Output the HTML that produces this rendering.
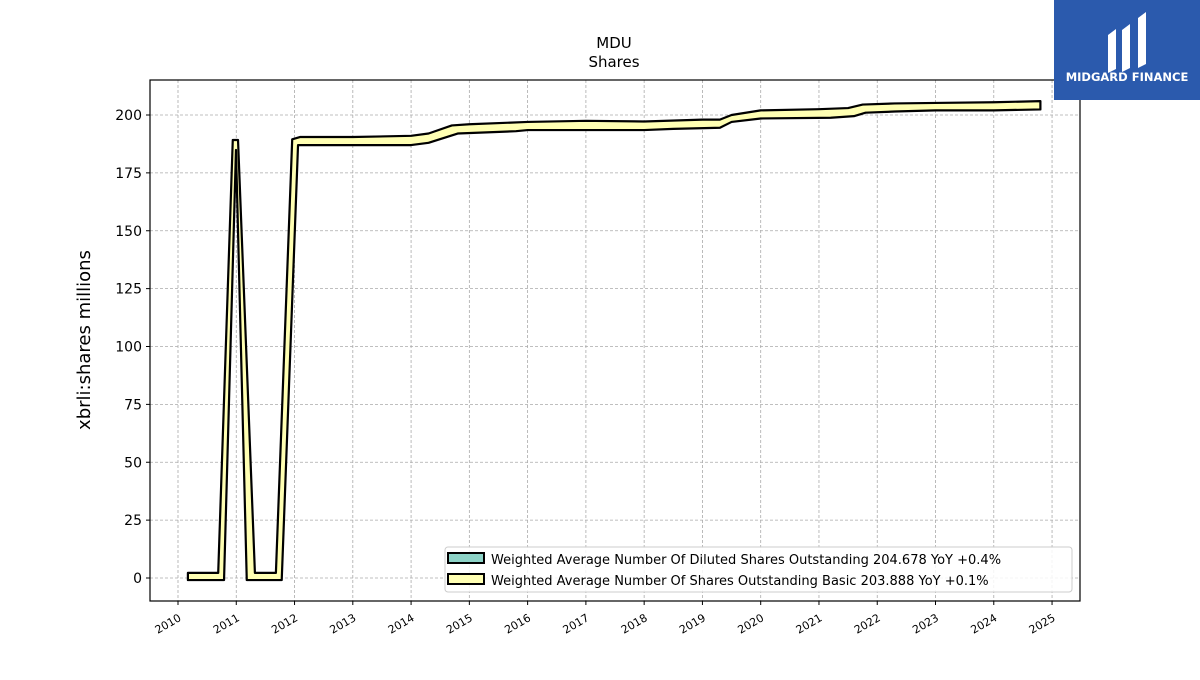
<!DOCTYPE html>
<html><head><meta charset="utf-8"><style>
body{margin:0;background:#fff;font-family:"Liberation Sans","DejaVu Sans",sans-serif}
svg text{font-family:"DejaVu Sans","Liberation Sans",sans-serif}
</style></head><body>
<svg id="c" width="1200" height="675">
<rect width="1200" height="675" fill="#fff"/>
<text x="614" y="48" text-anchor="middle" font-size="15">MDU</text>
<text x="614" y="67" text-anchor="middle" font-size="15">Shares</text>
<g id="grid"></g>
<g id="series"></g>
<rect x="150" y="80" width="930" height="521" fill="none" stroke="#000" stroke-width="1.2"/>
<g id="axes"></g>
<text transform="translate(90,340) rotate(-90)" text-anchor="middle" font-size="18">xbrli:shares millions</text>
<g>
<rect x="445" y="547" width="627" height="45" rx="3" fill="#fff" fill-opacity="0.85" stroke="#ccc"/>
<rect x="448" y="553" width="36" height="10" fill="#8dd3c7" stroke="#000" stroke-width="2"/>
<text x="491" y="564" font-size="13">Weighted Average Number Of Diluted Shares Outstanding  204.678 YoY +0.4%</text>
<rect x="448" y="574" width="36" height="10" fill="#ffffb3" stroke="#000" stroke-width="2"/>
<text x="491" y="585" font-size="13">Weighted Average Number Of Shares Outstanding Basic  203.888 YoY +0.1%</text>
</g>
<g>
<rect x="1054" y="0" width="146" height="100" fill="#2b5aad"/>
<path d="M1108 35 l8 -6 v40 l-8 4z M1122 30 l8 -6 v44 l-8 4z M1138 18 l8 -6 v52 l-8 4z" fill="#fff"/>
<text x="1127" y="81" text-anchor="middle" font-size="11.5" font-weight="bold" fill="#fff">MIDGARD FINANCE</text>
</g>
</svg>
<script>
const xTicks=[2010,2011,2012,2013,2014,2015,2016,2017,2018,2019,2020,2021,2022,2023,2024,2025];
const yTicks=[0,25,50,75,100,125,150,175,200];
const dilutedYears=[2010.17,2010.69,2010.94,2011.03,2011.32,2011.68,2011.96,2012.1,2013,2014,2014.3,2014.7,2015,2016,2017,2018,2019,2019.3,2019.5,2020,2021,2021.5,2021.75,2022.3,2023,2024,2024.8];
const dilutedValues=[2.2,2.2,189.2,189.2,2.2,2.2,189.5,190.5,190.5,191,192,195.5,196,197,197.5,197.2,198,198,200,202,202.5,203,204.5,205,205.2,205.5,206];
const basicYears=[2010.17,2010.79,2010.995,2011.18,2011.78,2012.06,2013,2014,2014.3,2014.8,2015.8,2016,2018,2018.5,2019.3,2019.5,2020,2021.2,2021.6,2021.8,2022.3,2023,2024,2024.8];
const basicValues=[-0.9,-0.9,184.9,-0.9,-0.9,187,187,187,188,192,193,193.5,193.5,194,194.5,197,198.5,198.8,199.5,201,201.5,202,202,202.4];
const X=y=>178+(y-2010)*58.27, Y=v=>578-v*2.315;
const NS="http://www.w3.org/2000/svg";
const grid=document.getElementById('grid'),axes=document.getElementById('axes'),ser=document.getElementById('series');
function mk(tag,attrs,parent){const e=document.createElementNS(NS,tag);for(const k in attrs)e.setAttribute(k,attrs[k]);parent.appendChild(e);return e;}
xTicks.forEach(t=>{const x=X(t);
 const g=mk('line',{x1:x,x2:x,y1:80,y2:601,stroke:'#aaa','stroke-dasharray':'3,2','stroke-width':0.8},grid);
 
 
 mk('line',{x1:x,x2:x,y1:601,y2:605,stroke:'#000'},axes);
 const tx=mk('text',{x:x+4,y:620,'font-size':11,'text-anchor':'end',transform:`rotate(-30 ${x+4} 620)`},axes);
 tx.textContent=t;
 
 
});
yTicks.forEach(t=>{const y=Y(t);
 const g=mk('line',{x1:150,x2:1080,y1:y,y2:y,stroke:'#aaa','stroke-dasharray':'3,2','stroke-width':0.8},grid);
 
 
 mk('line',{x1:146,x2:150,y1:y,y2:y,stroke:'#000'},axes);
 const tx=mk('text',{x:142,y:y+5,'font-size':14,'text-anchor':'end'},axes);
 tx.textContent=t;
 
 
});
let pts=dilutedYears.map((yr,i)=>X(yr)+','+Y(dilutedValues[i]));
for(let i=basicYears.length-1;i>=0;i--)pts.push(X(basicYears[i])+','+Y(basicValues[i]));
const poly=mk('polygon',{points:pts.join(' '),fill:'#ffffb3',stroke:'#000','stroke-width':2.2,'stroke-linejoin':'round'},ser);


</script>
</body></html>
